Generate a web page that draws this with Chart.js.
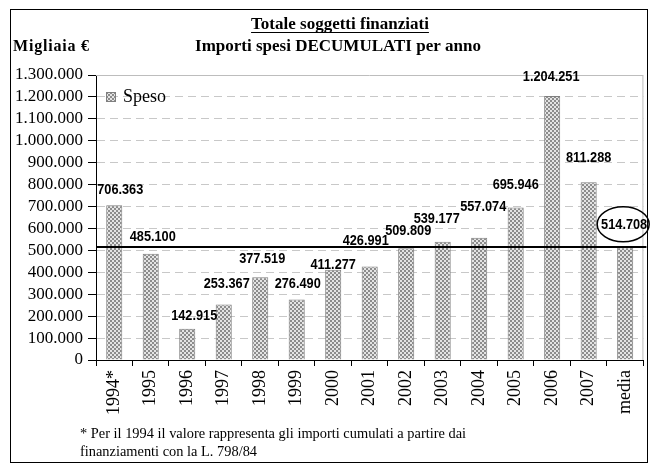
<!DOCTYPE html>
<html>
<head>
<meta charset="utf-8">
<script src="https://cdn.jsdelivr.net/npm/chart.js@4"></script>
<style>
  body { margin: 0; background: #fff; }
  #wrap { width: 651px; height: 466px; }
</style>
</head>
<body>
<div id="wrap"><canvas id="chart" width="651" height="466"></canvas></div>
<script>
'use strict';

// Data ********** //
let categories = ['1994*', '1995', '1996', '1997', '1998', '1999', '2000', '2001', '2002', '2003', '2004', '2005', '2006', '2007', 'media'];
let spesoValues = [706363, 485100, 142915, 253367, 377519, 276490, 411277, 426991, 509809, 539177, 557074, 695946, 1204251, 811288, 514708];
let mediaValue = 514708;
let yTicks = [0, 100000, 200000, 300000, 400000, 500000, 600000, 700000, 800000, 900000, 1000000, 1100000, 1200000, 1300000];

// label offsets (dx, dy above bar top) - placed by hand like in the original
let labelDx = [6, 2, 7, 3, 2, 1, 0, -4, 2, -6, 4, 0, -1, 0, -1];
let labelDy = [15, 17, 13, 21, 18, 16, 5, 26, 17, 23, 31, 23, 19, 24, 22];

const SERIF = '"Liberation Serif", "Times New Roman", serif';
const SANS = '"Liberation Sans", Arial, sans-serif';

// Helpers ********//
function formatIt(n) {
  return String(n).replace(/\B(?=(\d{3})+(?!\d))/g, '.');
}

function makePattern() {
  let c = document.createElement('canvas');
  c.width = 4;
  c.height = 4;
  let g = c.getContext('2d');
  g.fillStyle = '#8c8c8c';
  g.fillRect(0, 0, 4, 4);
  g.fillStyle = '#e4e4e4';
  g.fillRect(0, 0, 2, 2);
  g.fillRect(2, 2, 2, 2);
  return g.createPattern(c, 'repeat');
}

let ctx = document.getElementById('chart');
let pattern = makePattern();

// plot frame, title, legend, labels, mean line
let decorPlugin = {
  id: 'decor',
  beforeDatasetsDraw(chart) {
    let c = chart.ctx;
    let a = chart.chartArea;
    c.save();
    c.strokeStyle = '#bdbdbd';
    c.lineWidth = 1;
    c.beginPath();
    c.moveTo(a.left, a.top + 0.5);
    c.lineTo(a.right - 0.5, a.top + 0.5);
    c.lineTo(a.right - 0.5, a.bottom);
    c.stroke();
    c.restore();
  },
  afterDraw(chart) {
    let c = chart.ctx;
    let a = chart.chartArea;
    let yScale = chart.scales.y;
    c.save();

    // outer frame
    c.strokeStyle = '#000';
    c.lineWidth = 1;
    c.strokeRect(10.5, 9.5, 637, 453);

    // titles
    c.fillStyle = '#000';
    c.textBaseline = 'middle';
    c.textAlign = 'center';
    c.font = 'bold 17px ' + SERIF;
    let t1 = 'Totale soggetti finanziati';
    c.fillText(t1, 340, 25);
    let w1 = c.measureText(t1).width;
    c.fillRect(340 - w1 / 2, 32, w1, 1);
    c.fillText('Importi spesi DECUMULATI per anno', 338, 47);

    c.textAlign = 'left';
    c.font = 'bold 16px ' + SERIF;
    c.letterSpacing = '0.8px';
    c.fillText('Migliaia €', 13, 47);
    c.letterSpacing = '0px';

    // legend
    c.fillStyle = pattern;
    c.fillRect(107, 93, 8, 8);
    c.strokeStyle = '#7f7f7f';
    c.strokeRect(106.5, 92.5, 9, 9);
    c.fillStyle = '#000';
    c.font = '18px ' + SERIF;
    c.fillText('Speso', 123, 97);

    // mean line
    let ym = Math.round(yScale.getPixelForValue(mediaValue));
    c.fillRect(a.left, ym - 1, a.right - a.left + 3, 2);

    // data labels
    let meta = chart.getDatasetMeta(0);
    c.font = 'bold 15px ' + SANS;
    c.textAlign = 'center';
    c.strokeStyle = '#000';
    meta.data.forEach(function (bar, i) {
      let x = bar.x + labelDx[i];
      let y = bar.y - labelDy[i];
      c.save();
      c.translate(x, y);
      c.scale(0.85, 1);
      c.fillText(formatIt(spesoValues[i]), 0, 0);
      c.restore();
      if (categories[i] === 'media') {
        c.beginPath();
        c.ellipse(x - 1, y - 1, 26, 17.5, 0, 0, Math.PI * 2);
        c.lineWidth = 1.5;
        c.stroke();
      }
    });

    // footnote
    c.textAlign = 'left';
    c.font = '14.4px ' + SERIF;
    c.fillText('* Per il 1994 il valore rappresenta gli importi cumulati a partire dai', 80, 434);
    c.fillText('finanziamenti con la L. 798/84', 80, 452);

    c.restore();
  }
};

let chartObj = {
  type: 'bar',
  data: {
    labels: categories,
    datasets: [{
      label: 'Speso',
      data: spesoValues,
      backgroundColor: pattern,
      borderColor: '#7f7f7f',
      borderWidth: 1,
      borderSkipped: 'bottom',
      barPercentage: 0.44,
      categoryPercentage: 1
    }]
  },
  options: {
    responsive: false,
    animation: false,
    devicePixelRatio: 1,
    layout: { padding: { left: 0, top: 75, right: 7, bottom: 0 } },
    plugins: {
      legend: { display: false },
      title: { display: false },
      tooltip: { enabled: false }
    },
    scales: {
      x: {
        offset: true,
        grid: { offset: true, drawOnChartArea: false, drawTicks: true, tickLength: 6, tickColor: '#000' },
        border: { color: '#000', width: 1 },
        ticks: {
          color: '#000',
          font: { family: SERIF, size: 18 },
          minRotation: 90,
          maxRotation: 90,
          autoSkip: false,
          padding: 4
        },
        afterFit(scale) { scale.height = 106; }
      },
      y: {
        min: 0,
        max: 1300000,
        afterBuildTicks(scale) { scale.ticks = yTicks.map(v => ({ value: v })); },
        grid: { color: '#c8c8c8', lineWidth: 1, tickColor: '#000', tickLength: 8 },
        border: { color: '#000', width: 1, dash: [8, 5] },
        ticks: {
          color: '#000',
          font: { family: SERIF, size: 17 },
          padding: 5,
          autoSkip: false,
          callback: v => formatIt(v)
        },
        afterFit(scale) { scale.width = 96; }
      }
    }
  },
  plugins: [decorPlugin]
};

new Chart(ctx, chartObj);
</script>
</body>
</html>
